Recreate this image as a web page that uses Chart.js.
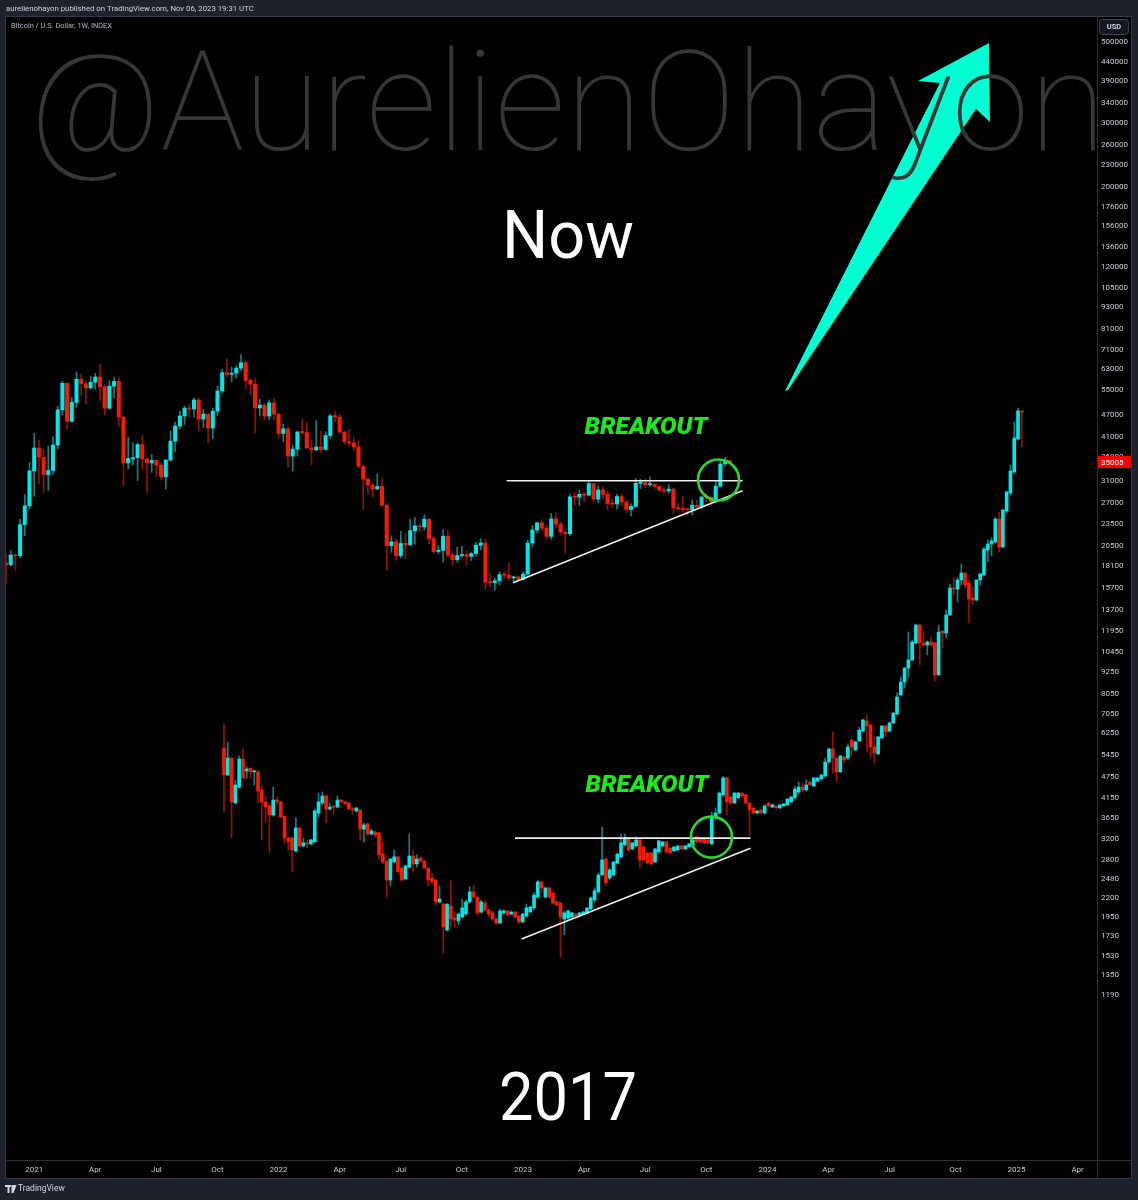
<!DOCTYPE html>
<html>
<head>
<meta charset="utf-8">
<script src="https://cdn.jsdelivr.net/npm/chart.js@4.4.1/dist/chart.umd.min.js"></script>
<style>
  html, body { margin: 0; padding: 0; background: #1e222d; }
  #wrap { width: 1138px; height: 1200px; }
</style>
</head>
<body>
<div id="wrap"><canvas id="myChart" width="1138" height="1200"></canvas></div>
<script>
// Weekly BTC candles [open, high, low, close], first bar = week -6 (week 0 = 2021-01-04)
const nowFirstWeek = -6;
const nowOHLC = [
  // Nov/Dec 2020
  [18400,19450,16200,18200],[18200,19900,18100,19360],[19360,19400,17600,19270],[19270,24300,19000,23480],[23480,28400,21900,26450],[26450,34800,25900,33000],
  // 2021
  [33000,41950,28100,38150],[38150,40100,30400,36000],[36000,37850,28800,32250],[32250,38600,29200,33100],
  [33100,40950,32300,38900],[38900,49700,37900,48600],[48600,58300,47000,57500],[57500,57550,43000,45200],
  [45200,52600,44900,50950],[50950,61800,49300,59000],[59000,61000,53300,57350],[57350,58400,50400,55800],[55800,60200,55500,57900],
  [57900,61200,55500,59800],[59800,64900,51600,56200],[56200,57000,47000,49100],[49100,58500,48800,56450],
  [56450,59600,52400,58200],[58200,59600,43800,46400],[46400,46800,30000,34700],[34700,40850,33400,35700],
  [35600,39450,34300,35900],[35900,39500,31000,39000],[39000,41300,33400,35600],[35600,35800,28800,34700],
  [34700,36600,32700,35300],[35300,35400,31950,34250],[34250,34700,31100,31800],[31800,35450,29400,35350],[35350,42500,35200,39850],
  [39850,45000,37300,43850],[43850,48150,43050,46750],[46750,49800,44300,49150],[49150,50450,46450,48850],
  [48850,52400,46450,51750],[51750,52400,42500,45850],[45850,48800,43400,47300],[47300,47400,39500,43300],
  [43300,49200,40500,48200],[48200,56500,46900,54750],[54750,62900,54000,61500],[61500,67000,59700,60850],[60850,63700,58000,61300],
  [61300,64200,59400,63300],[63300,69000,62300,65500],[65500,66300,55600,58600],[58600,59300,53600,57200],
  [57200,59200,42000,49200],[49200,51900,46700,50100],[50100,50600,45600,46700],[46700,51800,45600,50800],[50800,52100,45600,47300],
  // 2022
  [47300,47600,40600,41850],[41850,44400,39700,43100],[43100,43500,33800,36250],[36250,38900,32950,37900],
  [37900,42500,36250,42250],[42250,45850,41700,42100],[42100,44700,38000,38200],[38200,40200,34300,37700],
  [37700,45400,37500,38400],[38400,42500,37000,37800],[37800,42300,37600,41300],[41300,47200,40500,46800],[46800,48200,45100,46400],
  [46400,47100,42100,42200],[42200,42400,39200,39700],[39700,42900,38600,39400],[39400,40800,37600,38450],
  [38450,40000,33700,34000],[34000,34250,26000,31350],[31350,31400,28550,30200],[30200,30600,28000,29450],
  [29450,32400,29300,29900],[29900,31600,26450,26550],[26550,26900,17600,20550],[20550,21900,19700,21050],[21050,21500,18700,19300],
  [19300,22500,19000,20850],[20850,22200,18900,20650],[20650,24250,20600,22600],[22600,24600,20750,23300],
  [23300,23600,22400,23150],[23150,25000,22700,24300],[24300,24400,20800,21500],[21500,21800,19600,19800],
  [19800,20550,19500,19950],[19950,22750,18550,21800],[21800,22650,19100,19400],[19400,19800,18150,18800],[18800,20350,18500,19300],
  [19300,20450,19100,19400],[19400,19900,18200,19200],[19200,19700,18700,19550],[19550,21000,19200,20600],
  [20600,21450,20000,20900],[20900,21450,15600,16300],[16300,17150,15850,16250],[16250,16750,15500,16450],
  [16450,17400,16000,17100],[17100,17400,16700,17050],[17050,18400,16550,16750],[16750,16950,16350,16850],[16850,16950,16450,16600],
  // 2023
  [16600,17400,16500,17150],[17150,21300,17150,20900],[20900,23350,20400,22700],[22700,23800,22300,23750],
  [23750,24250,22600,22950],[22950,23450,21500,21800],[21800,25250,21400,24350],[24350,25250,23100,23550],
  [23550,23900,21950,22400],[22400,22600,19600,22150],[22150,28500,21900,28000],[28000,28900,26600,27950],[27950,29200,26500,28450],
  [28450,28800,27250,28300],[28300,31000,28200,30450],[30450,30500,27150,27600],[27600,30000,26950,29250],
  [29250,29850,27700,28450],[28450,29000,25850,26800],[26800,27650,26100,26750],[26750,28450,25900,28050],
  [28050,28450,26550,27100],[27100,27400,25350,25850],[25850,26800,24800,26350],[26350,31450,26250,30500],[30500,31300,29500,30600],
  [30600,31400,29700,30250],[30250,31800,29950,30300],[30300,30400,29550,29900],[29900,29950,28900,29250],
  [29250,29750,28600,29050],[29050,30250,28700,29400],[29400,29650,25200,26100],[26100,26850,25800,26000],
  [26000,28150,25350,25850],[25850,26100,24900,25800],[25800,27450,24950,26550],[26550,27450,26250,26250],[26250,28050,26000,27980],
  [27980,28600,27200,27950],[27950,28000,26550,27150],[27150,30900,26950,29950],[29950,35200,29800,34500],
  [34500,35950,33950,35050],[35050,35300,34500,35005]
];

// "2017" bars pattern copied onto the chart, [open, high, low, close] in axis units
const fracOHLC = [
  [5700,6640,3800,4805],[4805,5920,4775,5350],[5350,5350,3225,4050],[4025,4655,4000,4510],[4450,5420,4425,5315],[5315,5665,4700,4714],
  [4930,5055,4715,4990],[5020,5025,4715,4900],[4900,4960,4510,4930],[4900,4960,4025,4340],[4370,4480,3185,4050],[4050,4205,3565,3925],
  [3950,4025,2930,3730],[3730,4450,3700,4100],[4100,4180,3975,4050],[4050,4060,3670,3680],[3700,3710,3120,3225],[3225,3245,2985,3145],
  [3225,3245,2600,2990],[2970,3660,2950,3435],[3435,3455,3045,3065],[3065,3225,3045,3125],[3125,3185,3025,3105],[3105,3190,3085,3185],
  [3145,3875,3140,3825],[3775,4285,3680,4050],[4025,4315,3975,4205],[4205,4235,3545,3875],[3875,4000,3850,3920],[3945,3960,3750,3920],
  [3920,4205,3900,4100],[4100,4110,4030,4050],[4050,4060,3990,4000],[4025,4030,3850,3875],[3875,3920,3750,3850],[3825,3905,3800,3900],
  [3850,3860,3185,3410],[3410,3545,3145,3500],[3525,3545,3285,3305],[3305,3410,3285,3370],[3350,3370,3245,3285],[3330,3335,2820,2895],
  [2910,3145,2735,2770],[2785,2790,2215,2470],[2470,2830,2380,2820],[2770,2985,2750,2860],[2860,2870,2590,2600],[2665,2685,2455,2470],
  [2485,2715,2480,2700],[2680,3305,2675,2875],[2875,2985,2600,2735],[2735,2895,2680,2820],[2840,2860,2770,2785],[2785,2790,2660,2665],
  [2665,2670,2380,2470],[2500,2580,2420,2440],[2470,2475,2108,2148],[2148,2380,2140,2190],[2120,2125,1555,1835],[1800,2125,1788,2120],
  [2095,2455,1835,1930],[1940,2015,1835,1917],[1905,2005,1857,1990],[1955,2190,1940,2070],[1990,2175,1980,2150],[2150,2365,2135,2290],
  [2290,2395,2200,2215],[2215,2220,1980,2005],[2015,2175,2005,2150],[2135,2175,2030,2043],[2043,2050,1954,1992],[2005,2030,1920,1930],
  [1930,1935,1865,1880],[1880,2055,1875,2030],[2005,2045,1990,2030],[2030,2040,1970,1980],[1990,2030,1980,2015],[2015,2025,1945,1955],
  [1965,1970,1885,1893],[1893,2000,1885,1990],[1965,2120,1955,2070],[2017,2095,2010,2082],[2070,2275,2045,2245],[2217,2470,2205,2440],
  [2440,2455,2275,2348],[2217,2360,2205,2348],[2348,2360,2205,2217],[2276,2280,2120,2135],[2148,2160,2100,2108],[2135,2140,1515,1955],
  [1930,2030,1745,2005],[1940,2040,1930,2030],[1955,2015,1945,2005],[1990,2000,1955,1965],[1980,2010,1970,2004],[1992,2025,1985,2017],
  [2004,2075,2000,2069],[2055,2215,2045,2205],[2176,2348,2148,2304],[2290,2580,2275,2550],[2550,3455,2540,2805],[2820,2840,2380,2425],
  [2500,2665,2470,2632],[2550,2780,2540,2768],[2750,2930,2735,2910],[2860,3305,2850,3125],[3085,3305,3065,3225],[3205,3225,2970,2987],
  [3005,3135,2995,3125],[3065,3245,3045,3185],[3185,3190,2665,2805],[3045,3055,2790,2805],[2930,2945,2740,2750],[2930,2940,2720,2735],
  [2768,3020,2760,3005],[2950,3175,2940,3165],[3065,3150,3055,3145],[3145,3150,2940,2950],[3025,3030,2920,2930],[2970,3050,2960,3045],
  [2987,3070,2980,3065],[3065,3075,3000,3006],[3006,3075,3000,3065],[3045,3110,3040,3105],[3085,3195,3075,3185],[3245,3265,3125,3145],
  [3225,3235,3135,3145],[3205,3215,3115,3125],[3185,3195,3115,3125],[3105,3800,3085,3680],[3660,3900,3615,3775],[3775,4315,3750,4285],
  [4235,4775,4205,4715],[4715,4725,3730,4050],[4180,4190,4000,4025],[4025,4300,4010,4285],[4155,4300,4145,4285],[4285,4290,4180,4205],
  [4235,4260,4000,4025],[4025,4030,3285,3850],[3900,3910,3760,3775],[3775,3835,3755,3825],[3849,3860,3770,3776],[3775,3975,3750,3950],
  [4025,4050,3920,3950],[3920,3985,3910,3975],[3950,3960,3890,3900],[3900,3985,3890,3975],[3950,4010,3940,4000],[3975,4140,3965,4125],
  [4050,4190,4040,4180],[4155,4480,4130,4395],[4315,4595,4260,4450],[4450,4570,4315,4370],[4370,4655,4340,4510],[4595,4610,4500,4510],
  [4480,4725,4470,4715],[4625,4730,4615,4715],[4685,4815,4675,4805],[4775,5350,4745,5215],[5215,5700,5185,5665],[5665,6310,4865,5350],
  [5350,5360,4595,4900],[4900,5430,4890,5420],[5385,5400,5185,5285],[5350,5850,5285,5740],[5998,6010,5420,5740],[5630,5960,5595,5920],
  [5960,6515,5950,6390],[6350,6850,6310,6810],[6765,7025,5560,6555],[6595,6605,5385,5740],[5740,6115,5185,5525],[5490,6125,5470,6115],
  [6075,6570,6060,6555],[6555,6595,6115,6310],[6350,6725,6300,6680],[6680,7130,6670,7115],[7070,8080,7025,7875],[7975,8940,7970,8660],
  [8660,9480,8340,9465],[9465,11890,8940,9960],[9960,11305,9895,11160],[11090,12510,11020,12430],[12430,12510,9645,11090],[11090,11890,10880,10950],
  [10950,11250,10280,11160],[11160,11520,10900,10950],[11090,11100,8715,9055],[9055,12430,9050,11890],[11965,11980,10745,11815],[11815,13670,11445,13245],
  [13245,16120,13235,15715],[15715,16850,15030,15615],[15615,16750,14380,16535],[16535,18295,16015,17280],[17280,17390,15715,16015],[16220,16535,12590,14655],
  [14750,15815,14200,14565],[14565,16540,14500,16535],[16535,17280,16015,17170],[17065,20375,16960,20120],[19995,21305,18530,20770],[20770,21570,19245,21170],
  [21035,24640,20900,24330],[24330,25435,19740,20375],[20375,25800,20300,25765],[25600,29060,25275,28875],[28690,34260,28330,32985],[32775,44995,32360,40650],
  [40390,49160,40145,48240],[48240,48300,38400,47900]
];

// price axis ticks as printed on the right scale
const priceTicks = [500000,440000,390000,340000,300000,260000,230000,200000,176000,156000,136000,120000,105000,93000,81000,71000,
  63000,55000,47000,41000,36000,31000,27000,23500,20500,18100,15700,13700,11950,10450,9250,8050,7050,6250,5450,4750,4150,3650,
  3200,2800,2480,2200,1950,1730,1530,1350,1190];
const lastPrice = 35005;

// time axis ticks (weeks since 2021-01-04)
const timeTickWeeks = [0,13,26,39,52,65,78,91,104,117,130,143,156,169,182,196,209,222];
const timeTickLabels = ['2021','Apr','Jul','Oct','2022','Apr','Jul','Oct','2023','Apr','Jul','Oct','2024','Apr','Jul','Oct','2025','Apr'];

// drawings on the chart, in [week, price]
const nowLevel = { from: 100.5, to: 150.7, price: 31000 };
const nowTrend = [[101.9, 16250], [150.7, 29100]];
const nowCircle = [145.6, 31150];
const fracLevel = { from: 102.3, to: 152.4, price: 3220 };
const fracTrend = [[103.7, 1700], [152.4, 3020]];
const fracCircle = [144.1, 3240];

const BODY_UP = '#05e6e6', WICK_UP = '#0b8484';
const BODY_DOWN = '#f51d00', WICK_DOWN = '#951200';

function candleDatasets(rows, xOf, axisId, bodyWidth) {
  const isUp = rows.map(r => r[3] >= r[0]);
  return [
    {
      label: axisId + ' wick',
      xAxisID: axisId,
      data: rows.map((r, i) => ({ x: xOf(i), y: [r[2], r[1]] })),
      backgroundColor: isUp.map(u => u ? WICK_UP : WICK_DOWN),
      barThickness: 1,
      grouped: false,
      order: 2
    },
    {
      label: axisId + ' body',
      xAxisID: axisId,
      data: rows.map((r, i) => ({ x: xOf(i), y: [Math.min(r[0], r[3]), Math.max(r[0], r[3])] })),
      backgroundColor: isUp.map(u => u ? BODY_UP : BODY_DOWN),
      barThickness: bodyWidth,
      minBarLength: 1,
      grouped: false,
      order: 1
    }
  ];
}

function line(ctx, x1, y1, x2, y2) {
  ctx.beginPath();
  ctx.moveTo(x1, y1);
  ctx.lineTo(x2, y2);
  ctx.stroke();
}

// text squeezed sideways so it fills a given width
function fitText(ctx, txt, cx, baseline, targetW) {
  const w = ctx.measureText(txt).width;
  const sx = Math.min(1.2, Math.max(0.8, targetW / w));
  ctx.save();
  ctx.translate(cx, baseline);
  ctx.scale(sx, 1);
  ctx.fillText(txt, 0, 0);
  ctx.restore();
}

const decor = {
  id: 'decor',
  beforeDraw(chart) {
    const { ctx, chartArea: a, width, height } = chart;
    const yAx = chart.scales.y, xAx = chart.scales.x;
    ctx.save();
    ctx.fillStyle = '#1e222d';
    ctx.fillRect(0, 0, width, height);
    ctx.fillStyle = '#000000';
    ctx.fillRect(a.left, a.top, yAx.right - a.left, xAx.bottom - a.top);
    ctx.strokeStyle = '#363a45';
    ctx.lineWidth = 1;
    ctx.strokeRect(a.left - 0.5, a.top - 0.5, yAx.right - a.left + 1, xAx.bottom - a.top + 1);
    ctx.strokeStyle = '#2a2e39';
    line(ctx, a.right + 0.5, a.top, a.right + 0.5, xAx.bottom);
    line(ctx, a.left, a.bottom + 0.5, yAx.right, a.bottom + 0.5);

    ctx.textBaseline = 'middle';
    ctx.textAlign = 'left';
    ctx.fillStyle = '#d1d4dc';
    ctx.font = '7.8px Roboto';
    ctx.fillText('aurelienohayon published on TradingView.com, Nov 06, 2023 19:31 UTC', 6, 9);
    ctx.fillStyle = '#b2b5be';
    ctx.font = '7.4px Roboto';
    ctx.fillText('Bitcoin / U.S. Dollar, 1W, INDEX', 11, 26);

    // footer logo
    const fy = xAx.bottom + 11;
    ctx.fillStyle = '#d1d4dc';
    ctx.fillRect(5, fy - 4, 6, 2);
    ctx.fillRect(7.5, fy - 4, 2, 8);
    ctx.beginPath();
    ctx.moveTo(11.5, fy - 4); ctx.lineTo(16.5, fy - 4); ctx.lineTo(13.5, fy + 4); ctx.lineTo(11.5, fy + 4);
    ctx.closePath();
    ctx.fill();
    ctx.font = '8.5px Roboto';
    ctx.fillText('TradingView', 18, fy);
    ctx.restore();
  },
  beforeDatasetsDraw(chart) {
    const { ctx, chartArea: a } = chart;
    ctx.save();
    ctx.beginPath();
    ctx.rect(a.left, a.top, a.right - a.left, a.bottom - a.top);
    ctx.clip();
    // big arrow
    const pts = [[785, 391], [940, 83], [918, 81], [989, 43], [990, 122], [976, 109], [788, 390]];
    ctx.fillStyle = '#00ffd2';
    ctx.beginPath();
    pts.forEach((p, i) => i ? ctx.lineTo(p[0], p[1]) : ctx.moveTo(p[0], p[1]));
    ctx.closePath();
    ctx.fill();
    // watermark
    ctx.font = '100 140px Roboto';
    ctx.fillStyle = '#373737';
    ctx.textBaseline = 'alphabetic';
    ctx.textAlign = 'left';
    fitText(ctx, '@AurelienOhayon', 30, 150, 1076);
    ctx.restore();
  },
  afterDatasetsDraw(chart) {
    const { ctx } = chart;
    const x = chart.scales.x, y = chart.scales.y;
    const X = v => x.getPixelForValue(v), Y = v => y.getPixelForValue(v);
    ctx.save();
    ctx.strokeStyle = '#f0f0f0';
    ctx.lineWidth = 1.6;
    [[nowLevel, nowTrend], [fracLevel, fracTrend]].forEach(([lv, tr]) => {
      line(ctx, X(lv.from), Y(lv.price), X(lv.to), Y(lv.price));
      line(ctx, X(tr[0][0]), Y(tr[0][1]), X(tr[1][0]), Y(tr[1][1]));
    });
    ctx.strokeStyle = '#2fd62f';
    ctx.lineWidth = 2.6;
    [nowCircle, fracCircle].forEach(c => {
      ctx.beginPath();
      ctx.arc(X(c[0]), Y(c[1]), 20.5, 0, Math.PI * 2);
      ctx.stroke();
    });
    ctx.textAlign = 'center';
    ctx.textBaseline = 'alphabetic';
    ctx.fillStyle = '#20e620';
    ctx.font = 'italic 900 24.5px Roboto';
    fitText(ctx, 'BREAKOUT', 646, 434, 123);
    fitText(ctx, 'BREAKOUT', 647, 792, 123);
    ctx.fillStyle = '#ffffff';
    ctx.font = '400 66px Roboto';
    fitText(ctx, 'Now', 568, 258, 132);
    fitText(ctx, '2017', 568, 1120, 138);
    ctx.restore();
  },
  afterDraw(chart) {
    const { ctx, chartArea: a } = chart;
    const y = chart.scales.y;
    ctx.save();
    // last price label
    const py = Math.round(y.getPixelForValue(lastPrice));
    ctx.fillStyle = '#ff0000';
    ctx.fillRect(a.right + 1, py - 6, 33, 12);
    ctx.fillStyle = '#ffffff';
    ctx.font = '8px Roboto';
    ctx.textBaseline = 'middle';
    ctx.textAlign = 'left';
    ctx.fillText(String(lastPrice), a.right + 4, py + 0.5);
    // currency box
    ctx.fillStyle = '#131722';
    ctx.strokeStyle = '#434651';
    ctx.lineWidth = 1;
    ctx.beginPath();
    ctx.roundRect(a.right + 2.5, a.top + 2.5, 29, 15, 3);
    ctx.fill();
    ctx.stroke();
    ctx.fillStyle = '#d1d4dc';
    ctx.font = 'bold 7.5px Roboto';
    ctx.textAlign = 'center';
    ctx.fillText('USD', a.right + 17, a.top + 10.5);
    ctx.restore();
  }
};

Chart.defaults.font.family = 'Roboto';

const myChart = new Chart(document.getElementById('myChart'), {
  type: 'bar',
  data: {
    datasets: [
      ...candleDatasets(nowOHLC, i => nowFirstWeek + i, 'x', 3.4),
      ...candleDatasets(fracOHLC, i => i, 'x2', 3)
    ]
  },
  options: {
    responsive: false,
    animation: false,
    devicePixelRatio: 1,
    layout: { padding: { top: 17, left: 6, right: 7, bottom: 22 } },
    plugins: { legend: { display: false }, tooltip: { enabled: false } },
    scales: {
      x: {
        type: 'linear',
        min: -6,
        max: 226.13,
        offset: false,
        grid: { display: false, drawTicks: false },
        border: { display: false },
        afterBuildTicks: s => { s.ticks = timeTickWeeks.map(v => ({ value: v })); },
        afterFit: s => { s.height = 18; },
        ticks: {
          autoSkip: false,
          maxRotation: 0,
          padding: 5,
          color: '#c9ccd4',
          font: { size: 8 },
          callback: (v, i) => timeTickLabels[i]
        }
      },
      x2: {
        type: 'linear',
        display: false,
        min: -57.66,
        max: 230.89,
        offset: false
      },
      y: {
        type: 'logarithmic',
        position: 'right',
        min: 418.8,
        max: 585840,
        grid: { display: false, drawTicks: false },
        border: { display: false },
        afterBuildTicks: s => { s.ticks = priceTicks.map(v => ({ value: v })); },
        afterFit: s => { s.width = 34; },
        ticks: {
          autoSkip: false,
          padding: 4,
          color: '#c9ccd4',
          font: { size: 8 },
          callback: v => String(v)
        }
      }
    }
  },
  plugins: [decor]
});
</script>
</body>
</html>
